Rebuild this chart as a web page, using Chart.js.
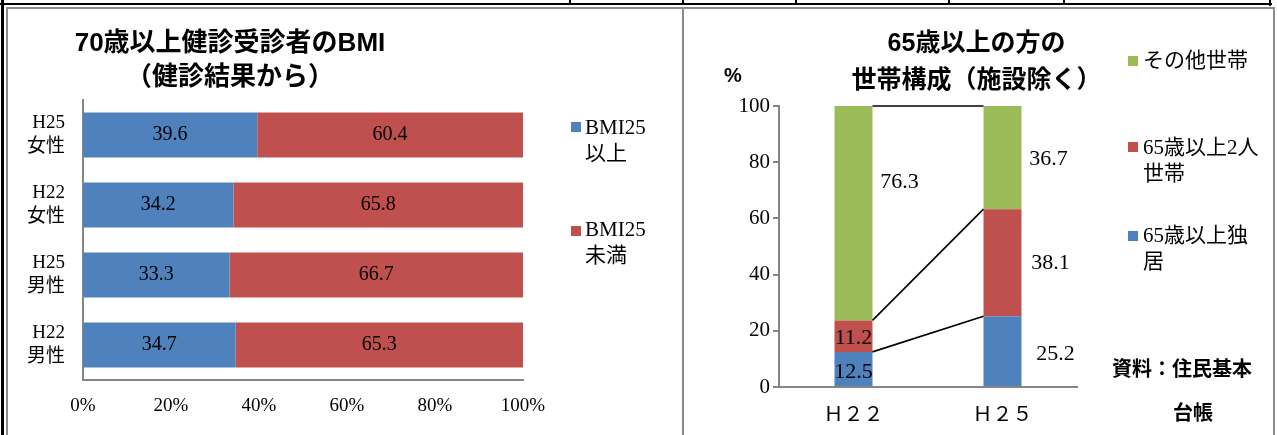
<!DOCTYPE html>
<html lang="ja">
<head>
<meta charset="utf-8">
<script src="https://cdn.jsdelivr.net/npm/chart.js@4.4.1/dist/chart.umd.min.js"></script>
<style>
  html, body { margin: 0; padding: 0; background: #fff; }
  body { width: 1277px; height: 435px; position: relative; overflow: hidden; }
  canvas { position: absolute; left: 0; top: 0; }
  .ln { position: absolute; }
  .blk { background: #000; }
  .gry { background: #8c8c8c; }
  .ttl { position: absolute; font-family: 'Liberation Sans', 'Noto Sans CJK JP', sans-serif; font-weight: bold; color: #000; text-align: center; white-space: nowrap; }
  .leg { position: absolute; font-family: 'Liberation Serif', 'Noto Sans CJK JP', serif; font-size: 21px; line-height: 26px; color: #000; white-space: nowrap; }
  .sq { position: absolute; width: 10px; height: 10px; }
</style>
</head>
<body>
<!-- table borders round the two charts -->
<div class="ln blk" style="left:1px;top:0;width:3px;height:435px"></div>
<div class="ln blk" style="left:0;top:3px;width:1272px;height:2px"></div>
<div class="ln blk" style="left:569px;top:0;width:2px;height:4px"></div>
<div class="ln blk" style="left:682px;top:0;width:2px;height:4px"></div>
<div class="ln blk" style="left:795px;top:0;width:2px;height:4px"></div>
<div class="ln blk" style="left:948px;top:0;width:2px;height:4px"></div>
<div class="ln blk" style="left:1063px;top:0;width:2px;height:4px"></div>
<div class="ln blk" style="left:1269px;top:0;width:2px;height:6px"></div>
<div class="ln gry" style="left:6px;top:7px;width:1269px;height:2px"></div>
<div class="ln gry" style="left:6px;top:7px;width:2px;height:428px"></div>
<div class="ln gry" style="left:682px;top:7px;width:2px;height:428px"></div>
<div class="ln gry" style="left:1273px;top:7px;width:2px;height:428px"></div>

<canvas id="bmi" width="1277" height="435"></canvas>
<canvas id="household" width="1277" height="435"></canvas>

<!-- titles -->
<div class="ttl" style="left:30px;top:25px;width:400px;font-size:26px;line-height:34px">70歳以上健診受診者のBMI<br>（健診結果から）</div>
<div class="ttl" style="left:774px;top:24px;width:405px;font-size:25px;line-height:37px">65歳以上の方の<br>世帯構成（施設除く）</div>
<div class="ttl" style="left:718px;top:62px;width:30px;font-size:20px;line-height:26px">%</div>
<div class="ttl" style="left:1112px;top:356px;width:160px;font-size:20px;line-height:26px;text-align:left">資料：住民基本</div>
<div class="ttl" style="left:1143px;top:400px;width:100px;font-size:20px;line-height:26px">台帳</div>

<!-- legends -->
<div id="bmi-legend"></div>
<div id="household-legend"></div>

<script>
// ---------------------------------------------------------------------------
// Data
// ---------------------------------------------------------------------------
const BMI_CATEGORIES = [['H25', '女性'], ['H22', '女性'], ['H25', '男性'], ['H22', '男性']];
const BMI_OVER = [39.6, 34.2, 33.3, 34.7];
const BMI_UNDER = [60.4, 65.8, 66.7, 65.3];
const BMI_LABELS = [['BMI25', '以上'], ['BMI25', '未満']];
const PCT_TICKS = [0, 20, 40, 60, 80, 100];

const HH_CATEGORIES = ['Ｈ２２', 'Ｈ２５'];
const HH_ALONE = [12.5, 25.2];
const HH_COUPLE = [11.2, 38.1];
const HH_OTHER = [76.3, 36.7];
const HH_LABELS = [['65歳以上独', '居'], ['65歳以上2人', '世帯'], ['その他世帯']];

// ---------------------------------------------------------------------------
// Look
// ---------------------------------------------------------------------------
const BLUE = '#4f81bd';
const RED = '#c0504d';
const GREEN = '#9bbb59';
const AXIS = '#868686';
const SERIF = "'Liberation Serif', 'Noto Sans CJK JP', serif";

// label nudges (px) for the household chart, [dataset][bar]
const HH_NUDGE = [
    [[0, 3], [53, 3]],
    [[0, 2], [48, 1]],
    [[46, -31], [46, 2]],
];

// ---------------------------------------------------------------------------
// Plugins
// ---------------------------------------------------------------------------
const barValueLabels = {
    id: 'barValueLabels',
    afterDatasetsDraw(chart, args, opts) {
        const ctx = chart.ctx;
        ctx.save();
        ctx.font = opts.font;
        ctx.fillStyle = '#000';
        ctx.textAlign = 'center';
        ctx.textBaseline = 'middle';
        chart.data.datasets.forEach((ds, di) => {
            chart.getDatasetMeta(di).data.forEach((el, i) => {
                let x, y;
                if (chart.options.indexAxis === 'y') {
                    x = (el.x + el.base) / 2;
                    y = el.y;
                } else {
                    x = el.x;
                    y = (el.y + el.base) / 2;
                }
                const n = opts.nudge ? opts.nudge[di][i] : [0, 0];
                ctx.fillText(ds.data[i].toFixed(1), x + n[0], y + n[1]);
            });
        });
        ctx.restore();
    }
};

// Excel style series lines between the stacked columns
const seriesLines = {
    id: 'seriesLines',
    afterDatasetsDraw(chart) {
        const ctx = chart.ctx;
        ctx.save();
        ctx.strokeStyle = '#000';
        ctx.lineWidth = 1.6;
        chart.data.datasets.forEach((ds, di) => {
            const bars = chart.getDatasetMeta(di).data;
            for (let i = 0; i < bars.length - 1; i++) {
                const a = bars[i], b = bars[i + 1];
                ctx.beginPath();
                ctx.moveTo(a.x + a.width / 2, a.y);
                ctx.lineTo(b.x - b.width / 2, b.y);
                ctx.stroke();
            }
        });
        ctx.restore();
    }
};

// ---------------------------------------------------------------------------
// Legends (html)
// ---------------------------------------------------------------------------
function renderLegend(id, items) {
    document.getElementById(id).innerHTML = items.map(it => `
      <div class="sq" style="left:${it.sx}px;top:${it.sy}px;background:${it.color}"></div>
      <div class="leg" style="left:${it.tx}px;top:${it.ty}px">${it.text.join('<br>')}</div>
    `).join('');
}

renderLegend('bmi-legend', [
    { color: BLUE, text: BMI_LABELS[0], sx: 571, sy: 122, tx: 585, ty: 114 },
    { color: RED, text: BMI_LABELS[1], sx: 571, sy: 226, tx: 585, ty: 216 },
]);
renderLegend('household-legend', [
    { color: GREEN, text: HH_LABELS[2], sx: 1128, sy: 56, tx: 1143, ty: 47 },
    { color: RED, text: HH_LABELS[1], sx: 1128, sy: 142, tx: 1143, ty: 134 },
    { color: BLUE, text: HH_LABELS[0], sx: 1128, sy: 231, tx: 1143, ty: 222 },
]);

// ---------------------------------------------------------------------------
// Charts
// ---------------------------------------------------------------------------
Chart.defaults.animation = false;

new Chart(document.getElementById('bmi'), {
    type: 'bar',
    data: {
        labels: BMI_CATEGORIES,
        datasets: [
            { label: BMI_LABELS[0].join(''), data: BMI_OVER, backgroundColor: BLUE },
            { label: BMI_LABELS[1].join(''), data: BMI_UNDER, backgroundColor: RED },
        ],
    },
    options: {
        indexAxis: 'y',
        responsive: false,
        layout: { padding: { left: 23, right: 754, top: 100, bottom: 15 } },
        plugins: {
            legend: { display: false },
            tooltip: { enabled: false },
            barValueLabels: { font: `20px ${SERIF}` },
        },
        datasets: { bar: { barPercentage: 0.64, categoryPercentage: 1 } },
        scales: {
            x: {
                stacked: true, min: 0, max: 100,
                afterFit: s => { s.height = 40; },
                afterBuildTicks: s => { s.ticks = PCT_TICKS.map(v => ({ value: v })); },
                grid: { display: false, drawTicks: false },
                border: { display: true, color: AXIS, width: 2 },
                ticks: { padding: 15, color: '#000', font: { family: SERIF, size: 19 }, callback: v => v + '%' },
            },
            y: {
                stacked: true,
                afterFit: s => { s.width = 60; },
                grid: { display: false, drawTicks: false },
                border: { display: true, color: AXIS, width: 2 },
                ticks: { padding: 18, color: '#000', font: { family: SERIF, size: 19, lineHeight: 1.3 } },
            },
        },
    },
    plugins: [barValueLabels],
});

new Chart(document.getElementById('household'), {
    type: 'bar',
    data: {
        labels: HH_CATEGORIES,
        datasets: [
            { label: HH_LABELS[0].join(''), data: HH_ALONE, backgroundColor: BLUE },
            { label: HH_LABELS[1].join(''), data: HH_COUPLE, backgroundColor: RED },
            { label: HH_LABELS[2].join(''), data: HH_OTHER, backgroundColor: GREEN },
        ],
    },
    options: {
        responsive: false,
        layout: { padding: { left: 719, right: 200, top: 106, bottom: 8 } },
        plugins: {
            legend: { display: false },
            tooltip: { enabled: false },
            barValueLabels: { font: `22px ${SERIF}`, nudge: HH_NUDGE },
        },
        datasets: { bar: { barPercentage: 0.255, categoryPercentage: 1 } },
        scales: {
            x: {
                stacked: true,
                afterFit: s => { s.height = 40; },
                grid: { display: false, drawTicks: false },
                border: { display: true, color: AXIS, width: 2 },
                ticks: { padding: 17, color: '#000', font: { family: SERIF, size: 20 } },
            },
            y: {
                stacked: true, min: 0, max: 100,
                afterFit: s => { s.width = 60; },
                grid: { display: true, drawOnChartArea: false, drawTicks: true, tickLength: 6, color: AXIS, lineWidth: 2 },
                border: { display: true, color: AXIS, width: 2 },
                ticks: { stepSize: 20, padding: 3, color: '#000', font: { family: SERIF, size: 21 } },
            },
        },
    },
    plugins: [barValueLabels, seriesLines],
});
</script>
</body>
</html>
